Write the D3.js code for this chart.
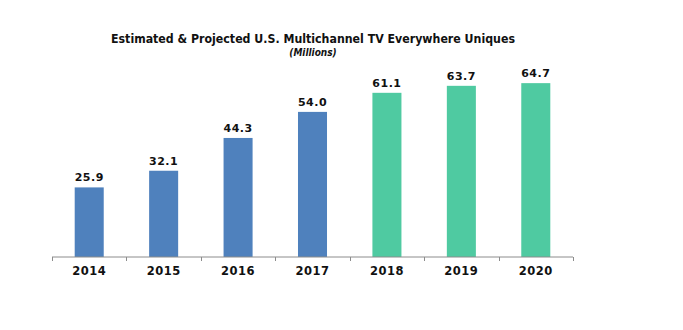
<!DOCTYPE html>
<html><head><meta charset="utf-8">
<script src="https://cdn.jsdelivr.net/npm/d3@7"></script>
<style>body{margin:0;background:#fff}svg{display:block}</style>
</head><body><svg width="683" height="330"></svg>
<script>
const years = ["2014","2015","2016","2017","2018","2019","2020"];
const values = [25.9, 32.1, 44.3, 54.0, 61.1, 63.7, 64.7];
const kinds = ["est","est","est","est","proj","proj","proj"];
const title = "Estimated & Projected U.S. Multichannel TV Everywhere Uniques";
const subtitle = "(Millions)";

const svg = d3.select("svg");
const font = "'DejaVu Sans', Verdana, sans-serif";
const tfont = "'DejaVu Sans Condensed', 'DejaVu Sans', sans-serif";
const x = d3.scaleBand().domain(years).range([52, 573]).paddingInner(0.61).paddingOuter(0.305);
const y = d3.scaleLinear().domain([0, 70]).range([257, 68.9]);
const color = d => d === "est" ? "#4F81BD" : "#4FCAA1";

svg.selectAll("rect.bar").data(years).join("rect")
  .attr("class","bar")
  .attr("x", d => x(d)).attr("width", x.bandwidth())
  .attr("y", (d,i) => y(values[i])).attr("height", (d,i) => y(0) - y(values[i]))
  .attr("fill", (d,i) => color(kinds[i]));

svg.selectAll("text.val").data(years).join("text")
  .attr("class","val")
  .attr("x", d => x(d) + x.bandwidth()/2)
  .attr("y", (d,i) => y(values[i]) - 6)
  .attr("text-anchor","middle")
  .attr("font-family", font).attr("font-weight","bold").attr("font-size", 11)
  .attr("letter-spacing", 0.5)
  .attr("fill","#111")
  .text((d,i) => values[i].toFixed(1));

const g = svg.append("g").attr("transform","translate(0,257)");
g.append("line").attr("x1",52).attr("x2",573).attr("stroke","#8c8c8c").attr("stroke-width",1);
const edges = [52].concat(years.map(d => x(d) + x.bandwidth()/2 + x.step()/2));
g.selectAll("line.tk").data(edges).join("line").attr("class","tk")
  .attr("x1", d => Math.round(d)+0.5).attr("x2", d => Math.round(d)+0.5)
  .attr("y1",0).attr("y2",4).attr("stroke","#8c8c8c");
g.selectAll("text.lab").data(years).join("text").attr("class","lab")
  .attr("x", d => x(d) + x.bandwidth()/2).attr("y", 18)
  .attr("text-anchor","middle")
  .attr("font-family", font).attr("font-weight","bold").attr("font-size", 11.5)
  .attr("letter-spacing", 0.5)
  .attr("fill","#111").text(d => d);

const t = svg.append("text").attr("x",313).attr("y",43).attr("text-anchor","middle")
  .attr("font-family", tfont).attr("font-weight","bold").attr("font-size",13)
  .attr("fill","#111").text(title);
const tw = t.node().getComputedTextLength();
t.attr("font-size", Math.min(14, 13 * 404 / tw));
svg.append("text").attr("x",313).attr("y",56).attr("text-anchor","middle")
  .attr("font-family", tfont).attr("font-weight","bold").attr("font-style","italic").attr("font-size",10)
  .attr("fill","#111").text(subtitle);
</script></body></html>
